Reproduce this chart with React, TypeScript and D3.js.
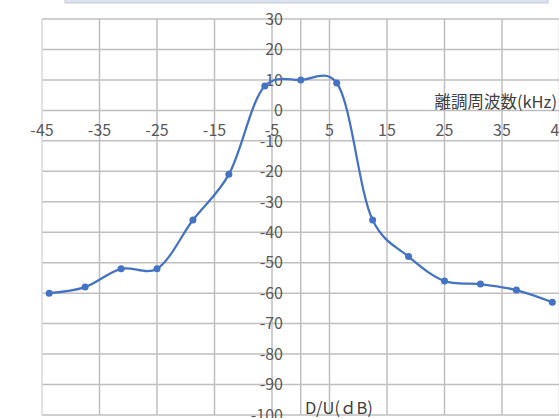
import React from "react";
import * as d3 from "d3";

const freqs = [-43.75, -37.5, -31.25, -25, -18.75, -12.5, -6.25, 0, 6.25, 12.5, 18.75, 25, 31.25, 37.5, 43.75];
const duValues = [-60, -58, -52, -52, -36, -21, 8, 10, 9, -36, -48, -56, -57, -59, -63];
const xTicks = [-45, -35, -25, -15, -5, 5, 15, 25, 35, 45];
const yTicks = [30, 20, 10, 0, -10, -20, -30, -40, -50, -60, -70, -80, -90, -100];
const xTitle = "離調周波数(kHz)";
const yTitle = "D/U(ｄB)";

const W = 559;
const H = 418;
const FONT = "'Noto Sans CJK JP', 'Noto Sans', sans-serif";

export default function App() {
  const x = d3.scaleLinear().domain([-45, 45]).range([42, 559.5]);
  const y = d3.scaleLinear().domain([-100, 30]).range([415, 19]);
  const pts: [number, number][] = freqs.map((f, i) => [x(f), y(duValues[i])]);
  const line = d3.line().curve(d3.curveCatmullRom.alpha(0.25))(pts) || "";
  const grid = "#bfbfbf";
  const txt = "#595959";
  return (
    <div style={{ position: "absolute", left: 0, top: 0, width: W, height: H, overflow: "hidden" }}>
      <svg width={W} height={H} style={{ display: "block", background: "#fff" }}>
        <rect x={65} y={-6} width={483} height={9} fill="#dae3f3" stroke="#c9c9c9" strokeWidth={1} />
        {yTicks.map((t) => (
          <line key={"h" + t} x1={x(-45)} x2={W} y1={y(t)} y2={y(t)} stroke={grid} strokeWidth={1.5} />
        ))}
        {xTicks.map((t) => (
          <line key={"v" + t} x1={x(t)} x2={x(t)} y1={y(30)} y2={y(-100)} stroke={t === -45 ? "#d9d9d9" : grid} strokeWidth={1.5} />
        ))}
        <line x1={x(0)} x2={x(0)} y1={y(30)} y2={y(-100)} stroke={grid} strokeWidth={1.5} />
        {xTicks.map((t) => (
          <text key={"xt" + t} x={x(t)} y={y(0) + 26} textAnchor="middle" fontFamily={FONT} fontSize={16} fill={txt}>
            {t}
          </text>
        ))}
        {yTicks.map((t) => (
          <text key={"yt" + t} x={283} y={y(t)} dy="0.36em" textAnchor="end" fontFamily={FONT} fontSize={16} fill={txt}>
            {t}
          </text>
        ))}
        <path d={line} fill="none" stroke="#4472c4" strokeWidth={2.25} />
        {pts.map((p, i) => (
          <circle key={"p" + i} cx={p[0]} cy={p[1]} r={3.5} fill="#4472c4" />
        ))}
        <text x={557} y={108} textAnchor="end" fontFamily={FONT} fontSize={16.5} fill="#404040">
          {xTitle}
        </text>
        <text x={305} y={414} textAnchor="start" fontFamily={FONT} fontSize={16.5} fill="#404040">
          {yTitle}
        </text>
      </svg>
    </div>
  );
}
